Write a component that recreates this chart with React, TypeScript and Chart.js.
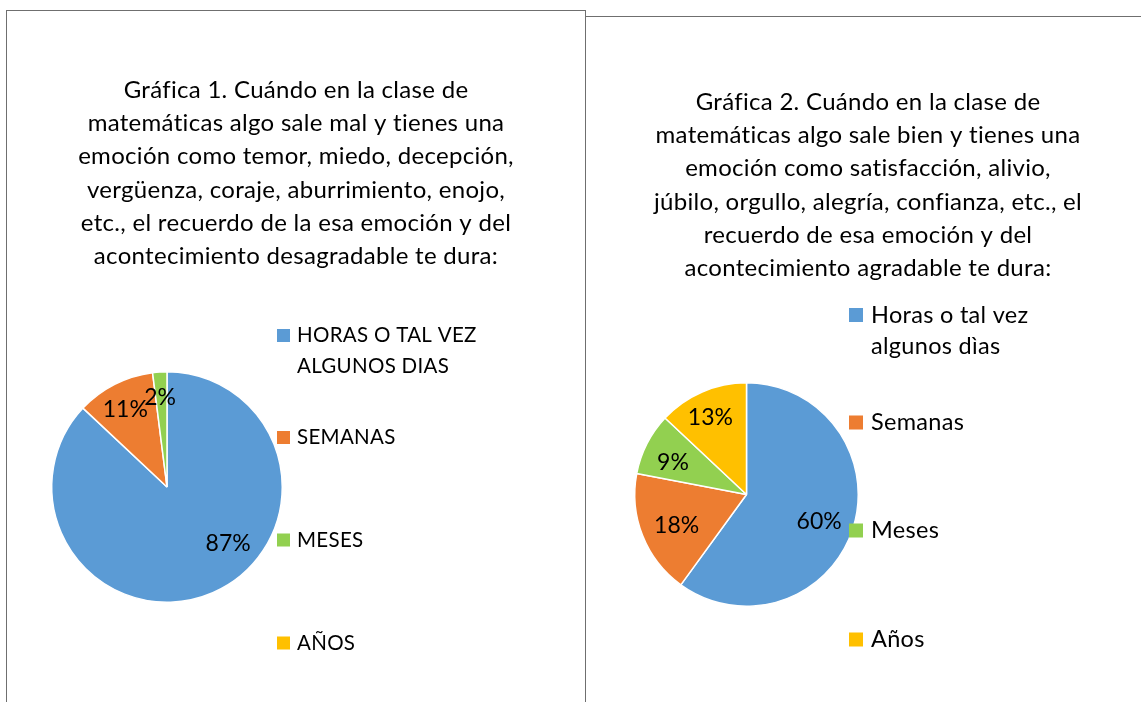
import React, { useEffect, useRef } from "react";
import { Chart, registerables } from "chart.js";

Chart.register(...registerables);

// ---------- data ----------
const categories1: string[][] = [["HORAS O TAL VEZ", "ALGUNOS DIAS"], ["SEMANAS"], ["MESES"], ["AÑOS"]];
const values1: number[] = [87, 11, 2, 0];
const title1: string[] = [
  "Gráfica 1. Cuándo en la clase de",
  "matemáticas algo sale mal y tienes una",
  "emoción como temor, miedo, decepción,",
  "vergüenza, coraje, aburrimiento, enojo,",
  "etc., el recuerdo de la esa emoción y del",
  "acontecimiento desagradable te dura:",
];

const categories2: string[][] = [["Horas o tal vez", "algunos dìas"], ["Semanas"], ["Meses"], ["Años"]];
const values2: number[] = [60, 18, 9, 13];
const title2: string[] = [
  "Gráfica 2. Cuándo en la clase de",
  "matemáticas algo sale bien y tienes una",
  "emoción como satisfacción, alivio,",
  "júbilo, orgullo, alegría, confianza, etc., el",
  "recuerdo de esa emoción y del",
  "acontecimiento agradable te dura:",
];

const colors: string[] = ["#5B9BD5", "#ED7D31", "#92D050", "#FFC000"];

// ---------- styles / placement ----------
const FONT = "Lato, 'Noto Sans', sans-serif";

type PanelStyle = {
  titleX: number;
  titleY: number;
  titleStep: number;
  titleSize: number;
  legendSize: number;
  legendBoxX: number;
  legendTextX: number;
  legendYs: number[];
  legendLineStep: number;
  legendBox: number;
  labelPlace: [number, number][]; // [angle deg clockwise from top, radius fraction]
  padding: { left: number; right: number; top: number; bottom: number };
};

const style1: PanelStyle = {
  titleX: 296,
  titleY: 90,
  titleStep: 33.3,
  titleSize: 24,
  legendSize: 20.5,
  legendBoxX: 277,
  legendTextX: 297,
  legendYs: [335.5, 437.5, 540, 643],
  legendLineStep: 30.5,
  legendBox: 13,
  labelPlace: [[132.5, 0.72], [332, 0.77], [355.6, 0.79], [0, 0]],
  padding: { left: 51, right: 304, top: 371, bottom: 99 },
};

const style2: PanelStyle = {
  titleX: 281,
  titleY: 102,
  titleStep: 33.3,
  titleSize: 24,
  legendSize: 23.5,
  legendBoxX: 262,
  legendTextX: 284,
  legendYs: [315, 422.5, 530.5, 639.5],
  legendLineStep: 31,
  legendBox: 14,
  labelPlace: [[109.6, 0.69], [246.8, 0.68], [294, 0.72], [335.2, 0.77]],
  padding: { left: 47, right: 282, top: 382, bottom: 95 },
};

function makeDecorPlugin(titleLines: string[], cats: string[][], st: PanelStyle) {
  return {
    id: "decor",
    afterDatasetsDraw(chart: any) {
      const ctx = chart.ctx as any;
      ctx.save();
      ctx.fillStyle = "#000";
      ctx.textBaseline = "middle";
      ctx.letterSpacing = "0.3px";
      // title
      ctx.font = `${st.titleSize}px ${FONT}`;
      ctx.textAlign = "center";
      titleLines.forEach((t, i) => ctx.fillText(t, st.titleX, st.titleY + i * st.titleStep));
      // legend
      ctx.textAlign = "left";
      ctx.font = `${st.legendSize}px ${FONT}`;
      cats.forEach((lines, i) => {
        const y = st.legendYs[i];
        ctx.fillStyle = colors[i];
        ctx.fillRect(st.legendBoxX, y - st.legendBox / 2, st.legendBox, st.legendBox);
        ctx.fillStyle = "#000";
        lines.forEach((ln, j) => ctx.fillText(ln, st.legendTextX, y + j * st.legendLineStep));
      });
      // slice labels
      const meta = chart.getDatasetMeta(0);
      const data = chart.data.datasets[0].data as number[];
      ctx.letterSpacing = "0px";
      ctx.textAlign = "center";
      ctx.font = `23px ${FONT}`;
      meta.data.forEach((arc: any, i: number) => {
        const v = data[i];
        if (!v) return;
        const [ang, frac] = st.labelPlace[i];
        const a = (ang * Math.PI) / 180;
        const r = arc.outerRadius * frac;
        const x = arc.x + Math.sin(a) * r;
        const y = arc.y - Math.cos(a) * r;
        ctx.fillText(`${v}%`, x, y + 1);
      });
      ctx.restore();
    },
  };
}

function PieCanvas(props: { cats: string[][]; values: number[]; title: string[]; st: PanelStyle; w: number; h: number }) {
  const ref = useRef<HTMLCanvasElement>(null);
  useEffect(() => {
    if (!ref.current) return;
    const chart = new Chart(ref.current, {
      type: "pie",
      data: {
        labels: props.cats,
        datasets: [
          {
            data: props.values,
            backgroundColor: colors,
            borderColor: "#ffffff",
            borderWidth: 1.5,
            hoverOffset: 0,
            offset: 0,
          },
        ],
      },
      options: {
        animation: false,
        responsive: false,
        maintainAspectRatio: false,
        devicePixelRatio: 1,
        layout: { padding: props.st.padding },
        plugins: {
          legend: { display: false },
          title: { display: false },
          tooltip: { enabled: false },
        },
      },
      plugins: [makeDecorPlugin(props.title, props.cats, props.st)],
    } as any);
    return () => chart.destroy();
  }, []);
  return <canvas ref={ref} width={props.w} height={props.h} style={{ width: props.w, height: props.h, display: "block" }} />;
}

export default function App() {
  return (
    <div style={{ position: "fixed", left: 0, top: 0, width: 1141, height: 702, background: "#fff", overflow: "hidden" }}>
      <div
        style={{
          position: "absolute",
          left: 6,
          top: 10,
          width: 578,
          height: 720,
          borderLeft: "1px solid #6f6f6f",
          borderTop: "1px solid #6f6f6f",
          borderRight: "1px solid #6f6f6f",
        }}
      />
      <div
        style={{
          position: "absolute",
          left: 586,
          top: 16,
          width: 600,
          height: 720,
          borderTop: "1px solid #6f6f6f",
        }}
      />
      <div style={{ position: "absolute", left: 0, top: 0 }}>
        <PieCanvas cats={categories1} values={values1} title={title1} st={style1} w={587} h={702} />
      </div>
      <div style={{ position: "absolute", left: 587, top: 0 }}>
        <PieCanvas cats={categories2} values={values2} title={title2} st={style2} w={554} h={702} />
      </div>
    </div>
  );
}
